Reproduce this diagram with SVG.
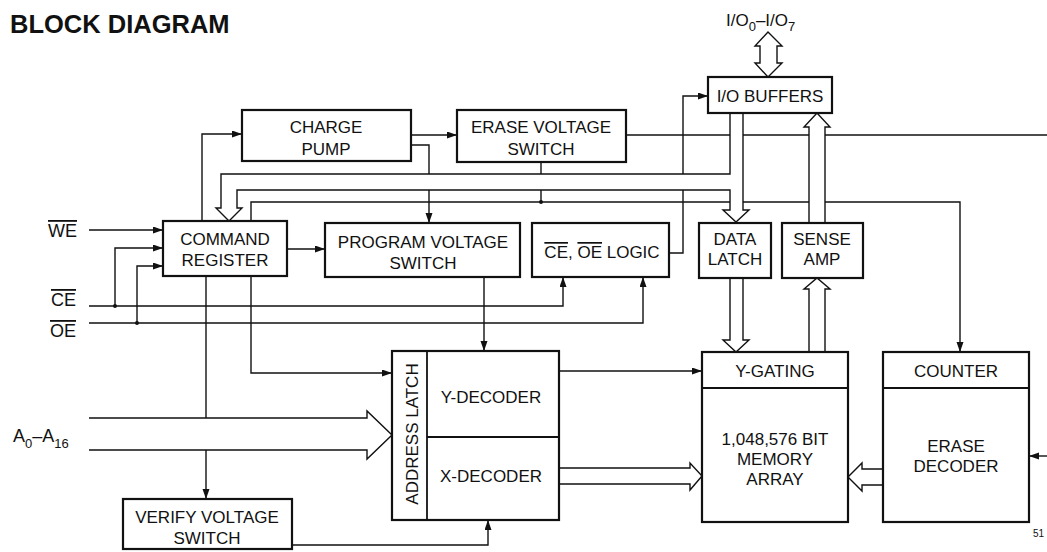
<svg xmlns="http://www.w3.org/2000/svg" width="1047" height="552" viewBox="0 0 1047 552">
<style>
  .box{fill:#fff;stroke:#111;stroke-width:2.2}
  .div{fill:none;stroke:#111;stroke-width:1.8}
  .ln{fill:none;stroke:#111;stroke-width:1.4}
  .arr{fill:none;stroke:#111;stroke-width:1.4;marker-end:url(#ah)}
  .bus{fill:#fff;stroke:#111;stroke-width:1.4;stroke-linejoin:miter}
  .t{font-family:"Liberation Sans",Arial,Helvetica,sans-serif;font-size:17px;fill:#111;text-anchor:middle}
  .pin{font-family:"Liberation Sans",Arial,Helvetica,sans-serif;font-size:18px;fill:#111}
  .sub{font-size:13px}
  .ttl{font-family:"Liberation Sans",Arial,Helvetica,sans-serif;font-size:25.5px;font-weight:bold;fill:#111}
  .ov{text-decoration:overline}
</style>
<defs>
  <marker id="ah" markerUnits="userSpaceOnUse" markerWidth="11" markerHeight="8" refX="10" refY="3.5" orient="auto">
    <path d="M0,0 L10,3.5 L0,7 z" fill="#111"/>
  </marker>
</defs>
<rect x="0" y="0" width="1047" height="552" fill="#fff"/>
<text class="ttl" x="10" y="33">BLOCK DIAGRAM</text>

<g id="connectors">
  <path class="arr" d="M202,221 L202,134 L242,134"/>
  <path class="arr" d="M411,135 L457,135"/>
  <path class="arr" d="M411,145 L429,145 L429,223"/>
  <path class="ln" d="M626,135 L1047,135"/>
  <path class="ln" d="M541,162 L541,202"/>
  <path class="arr" d="M251,221 L251,202 L960,202 L960,352"/>
  <path class="arr" d="M287,249 L325,249"/>
  <path class="arr" d="M89,230 L163,230"/>
  <path class="arr" d="M89,306 L563,306 L563,277"/>
  <path class="arr" d="M115,306 L115,248 L163,248"/>
  <path class="arr" d="M89,323 L643,323 L643,277"/>
  <path class="arr" d="M137,323 L137,266 L163,266"/>
  <path class="arr" d="M669,253 L683,253 L683,96 L708,96"/>
  <path class="arr" d="M484,277 L484,351"/>
  <path class="arr" d="M251,276 L251,373 L392,373"/>
  <path class="arr" d="M206,276 L206,499"/>
  <path class="arr" d="M292,545 L488,545 L488,520"/>
  <path class="arr" d="M559,371 L702,371"/>
  <path class="arr" d="M1047,456 L1029,456"/>
  <circle cx="541" cy="202" r="2" fill="#111"/>
  <circle cx="115" cy="306" r="2" fill="#111"/>
  <circle cx="137" cy="323" r="2" fill="#111"/>
  <path class="bus" d="M730,113 L730,174 L221,174 L221,208 L216,208 L229,221 L242,208 L237,208 L237,190 L730,190 L730,210 L723,210 L736,222 L749,210 L743,210 L743,113"/>
  <path class="bus" d="M809,223 L809,127 L804,127 L817,113 L830,127 L825,127 L825,223"/>
  <path class="bus" d="M809,352 L809,289 L804,289 L817,278 L830,289 L825,289 L825,352"/>
  <path class="bus" d="M730,278 L730,340 L723,340 L736,352 L749,340 L743,340 L743,278"/>
  <path class="bus" d="M760,46 L755,46 L768,32 L782,46 L777,46 L777,63 L782,63 L768,77 L755,63 L760,63 Z"/>
  <path class="bus" d="M89,418 L367,418 L367,411 L392,435 L367,459 L367,450 L89,450"/>
  <path class="bus" d="M559,468 L690,468 L690,463 L702,476 L690,490 L690,484 L559,484"/>
  <path class="bus" d="M883,469 L862,469 L862,463 L848,477 L862,491 L862,485 L883,485"/>
</g>

<g id="labels">
  <text class="pin" x="48" y="237"><tspan class="ov">WE</tspan></text>
  <text class="pin" x="51" y="306"><tspan class="ov">CE</tspan></text>
  <text class="pin" x="50" y="337"><tspan class="ov">OE</tspan></text>
  <text class="pin" x="13" y="442">A<tspan class="sub" dy="6">0</tspan><tspan dy="-6">–A</tspan><tspan class="sub" dy="6">16</tspan></text>
  <text class="pin" style="font-size:17px" x="726" y="26">I/O<tspan class="sub" dy="5">0</tspan><tspan dy="-5">–I/O</tspan><tspan class="sub" dy="5">7</tspan></text>
  <text x="1033" y="537" style="font-family:'Liberation Sans',Arial,sans-serif;font-size:10px;fill:#111">51</text>
</g>

<g id="charge-pump">
  <rect class="box" x="242" y="110" width="169" height="51"/>
  <text class="t" x="326" y="133">CHARGE</text>
  <text class="t" x="326" y="155">PUMP</text>
</g>
<g id="erase-voltage-switch">
  <rect class="box" x="457" y="110" width="169" height="52"/>
  <text class="t" x="541" y="133">ERASE VOLTAGE</text>
  <text class="t" x="541" y="155">SWITCH</text>
</g>
<g id="io-buffers">
  <rect class="box" x="708" y="77" width="124" height="36"/>
  <text class="t" x="770" y="102">I/O BUFFERS</text>
</g>
<g id="command-register">
  <rect class="box" x="163" y="221" width="124" height="55"/>
  <text class="t" x="225" y="245">COMMAND</text>
  <text class="t" x="225" y="266">REGISTER</text>
</g>
<g id="program-voltage-switch">
  <rect class="box" x="325" y="223" width="195" height="54"/>
  <text class="t" x="423" y="248">PROGRAM VOLTAGE</text>
  <text class="t" x="423" y="269">SWITCH</text>
</g>
<g id="ce-oe-logic">
  <rect class="box" x="532" y="223" width="137" height="54"/>
  <text class="t" x="602" y="258"><tspan class="ov">CE</tspan>, <tspan class="ov">OE</tspan> LOGIC</text>
</g>
<g id="data-latch">
  <rect class="box" x="699" y="223" width="72" height="55"/>
  <text class="t" x="735" y="245">DATA</text>
  <text class="t" x="735" y="265">LATCH</text>
</g>
<g id="sense-amp">
  <rect class="box" x="782" y="223" width="81" height="55"/>
  <text class="t" x="822" y="245">SENSE</text>
  <text class="t" x="822" y="265">AMP</text>
</g>
<g id="address-latch-decoders">
  <rect class="box" x="392" y="351" width="167" height="169"/>
  <line class="div" x1="427" y1="351" x2="427" y2="520"/>
  <line class="div" x1="427" y1="437" x2="559" y2="437"/>
  <text class="t" x="418" y="434" transform="rotate(-90 418 434)">ADDRESS LATCH</text>
  <text class="t" x="491" y="403">Y-DECODER</text>
  <text class="t" x="491" y="482">X-DECODER</text>
</g>
<g id="memory-array">
  <rect class="box" x="702" y="352" width="146" height="170"/>
  <line class="div" x1="702" y1="388" x2="848" y2="388"/>
  <text class="t" x="775" y="377">Y-GATING</text>
  <text class="t" x="775" y="445">1,048,576 BIT</text>
  <text class="t" x="775" y="465">MEMORY</text>
  <text class="t" x="775" y="485">ARRAY</text>
</g>
<g id="counter-erase-decoder">
  <rect class="box" x="883" y="352" width="146" height="170"/>
  <line class="div" x1="883" y1="388" x2="1029" y2="388"/>
  <text class="t" x="956" y="377">COUNTER</text>
  <text class="t" x="956" y="452">ERASE</text>
  <text class="t" x="956" y="472">DECODER</text>
</g>
<g id="verify-voltage-switch">
  <rect class="box" x="123" y="499" width="169" height="50"/>
  <text class="t" x="207" y="523">VERIFY VOLTAGE</text>
  <text class="t" x="207" y="544">SWITCH</text>
</g>
</svg>
